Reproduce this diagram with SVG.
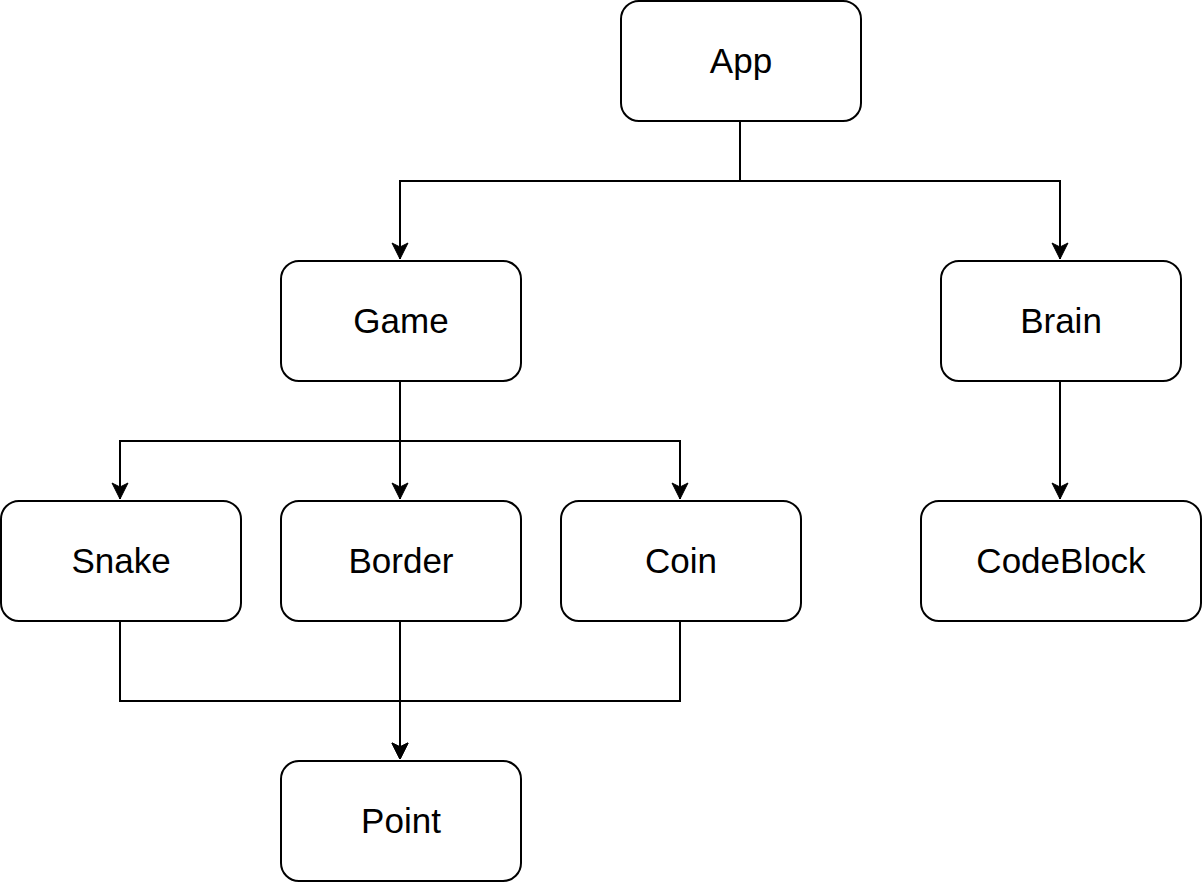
<svg xmlns="http://www.w3.org/2000/svg" width="1202" height="884" viewBox="0 0 1202 884">
<style>
.box{fill:#fff;stroke:#000;stroke-width:2}
.lbl{font-family:"Liberation Sans",Arial,sans-serif;font-size:35px;fill:#000;text-anchor:middle}
.edge{fill:none;stroke:#000;stroke-width:2}
</style>
<defs>
<marker id="arr" markerUnits="userSpaceOnUse" markerWidth="20" markerHeight="20" viewBox="0 0 20 20" refX="18" refY="10" orient="auto">
<path d="M2,2 L18,10 L2,18 L6,10 Z" fill="#000" stroke="#000" stroke-width="1"/>
</marker>
</defs>
<rect width="1202" height="884" fill="#fff"/>
<g id="connectors">
<path class="edge" d="M740,121 V181 H400 V259" marker-end="url(#arr)"/>
<path class="edge" d="M740,121 V181 H1060 V259" marker-end="url(#arr)"/>
<path class="edge" d="M400,381 V441 H120 V499" marker-end="url(#arr)"/>
<path class="edge" d="M400,381 V499" marker-end="url(#arr)"/>
<path class="edge" d="M400,381 V441 H680 V499" marker-end="url(#arr)"/>
<path class="edge" d="M1060,381 V499" marker-end="url(#arr)"/>
<path class="edge" d="M120,621 V701 H400 V759" marker-end="url(#arr)"/>
<path class="edge" d="M400,621 V759" marker-end="url(#arr)"/>
<path class="edge" d="M680,621 V701 H400 V759" marker-end="url(#arr)"/>
</g>
<g id="app"><rect class="box" x="621" y="1" width="240" height="120" rx="18"/><text class="lbl" x="741" y="73">App</text></g>
<g id="game"><rect class="box" x="281" y="261" width="240" height="120" rx="18"/><text class="lbl" x="401" y="333">Game</text></g>
<g id="brain"><rect class="box" x="941" y="261" width="240" height="120" rx="18"/><text class="lbl" x="1061" y="333">Brain</text></g>
<g id="snake"><rect class="box" x="1" y="501" width="240" height="120" rx="18"/><text class="lbl" x="121" y="573">Snake</text></g>
<g id="border"><rect class="box" x="281" y="501" width="240" height="120" rx="18"/><text class="lbl" x="401" y="573">Border</text></g>
<g id="coin"><rect class="box" x="561" y="501" width="240" height="120" rx="18"/><text class="lbl" x="681" y="573">Coin</text></g>
<g id="codeblock"><rect class="box" x="921" y="501" width="280" height="120" rx="18"/><text class="lbl" x="1061" y="573">CodeBlock</text></g>
<g id="point"><rect class="box" x="281" y="761" width="240" height="120" rx="18"/><text class="lbl" x="401" y="833">Point</text></g>
</svg>
